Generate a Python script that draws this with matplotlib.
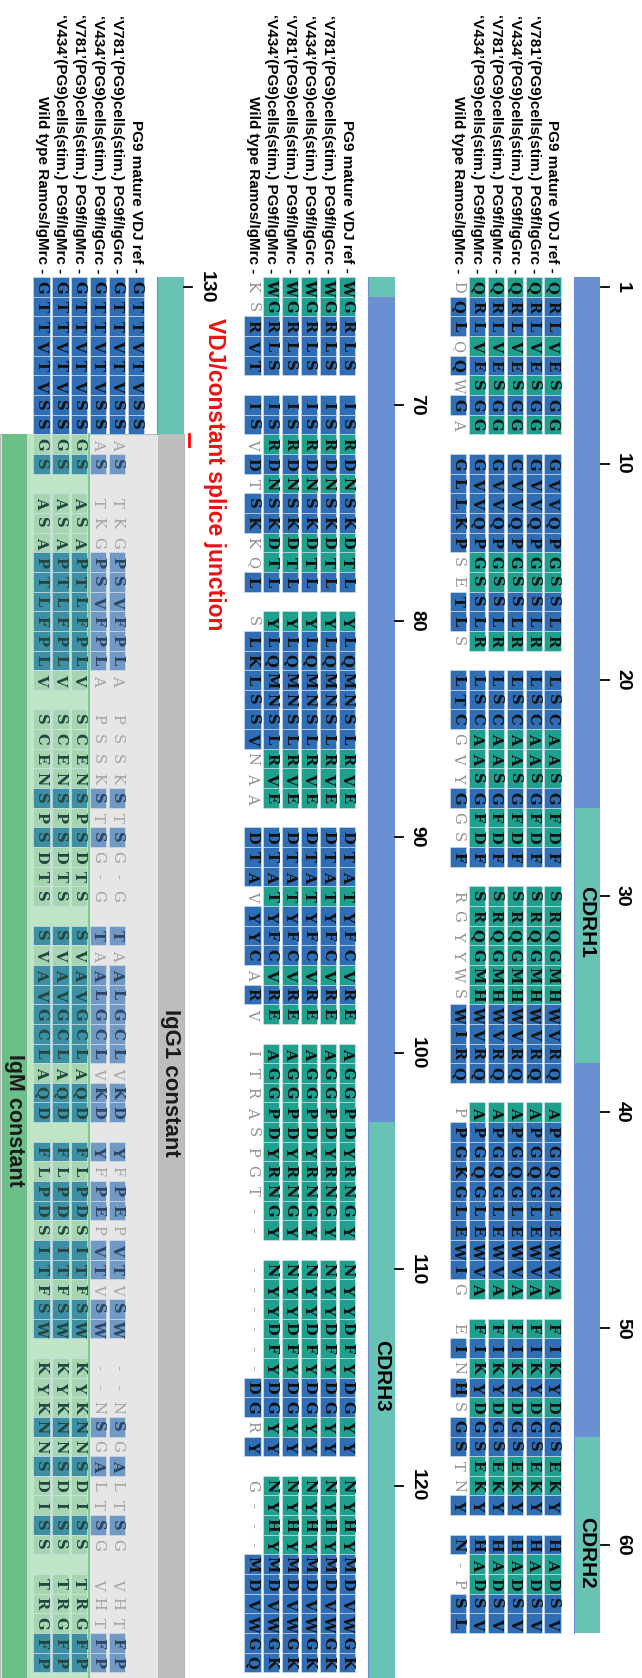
import matplotlib
matplotlib.use("Agg")
import matplotlib.pyplot as plt
from matplotlib.patches import Rectangle

# ---- row labels ----
row_labels = [
    "PG9 mature VDJ ref",
    "\u2018V781\u2019(PG9)cells(stim.) PG9f/IgGrc",
    "\u2018V434\u2019(PG9)cells(stim.) PG9f/IgGrc",
    "\u2018V781\u2019(PG9)cells(stim.) PG9f/IgMrc",
    "\u2018V434\u2019(PG9)cells(stim.) PG9f/IgMrc",
    "Wild type Ramos/IgMrc",
]

# ---- panel 1 (residues 1-64) ----
p1_pg9 = "QRLVESGG GVVQPGSSLR LSCAASGFDF SRQGMHWVRQ APGQGLEWVA FIKYDGSEKY HADSV"
p1_ramos = "DQLQQWGA GLLKPSETLS LTCGVYGGSF RGYYWSWIRQ PPGKGLEWIG EINHSGSTNY N-PSL"
# b = similar in every row, t = differs in the odd row out
p1_mask = "tbbtbtbt bbbbbttbbt bbbtttbttb ttttttbbbb tbbbbbbbbt tbtbtbbttb bttbb"
p1_ticks = [1, 10, 20, 30, 40, 50, 60]
p1_regions = [(-0.5, 26.5, "fr"), (26.5, 39.5, "cdr"), (39.5, 58.5, "fr"), (58.5, 68.5, "cdr")]

# ---- panel 2 (residues 65-128) ----
p2_pg9 = "WGRLS ISRDNSKDTL YLQMNSLRVE DTATYFCVRE AGGPDYRNGY NYYDFYDGYY NYHYMDVWGK"
p2_ramos = "KSRVT ISVDTSKKQL SLKLSSVNAA DTAVYYCARV ITRASPGT-- ------DGRY G---MDVWGQ"
p2_mask = "ttbbb bbtbtbbttb tbbbbbbttt bbbtbbbtbt tttttttttt ttttttbbtb ttttbbbbbb"
p2_ticks = [70, 80, 90, 100, 110, 120]
p2_regions = [(-0.5, 0.5, "cdr"), (0.5, 42.5, "fr"), (42.5, 71.5, "cdr")]

# ---- panel 3 (J region + constant) ----
p3_ref = "GTTVTVSS"
p3_igg = "GTTVTVSSAS TKGPSVFPLA PSSKSTSG-G TAALGCLVKD YFPEPVTVSW --NSGALTSG VHTFP"
p3_igm = "GTTVTVSSGS ASAPTLFPLV SCENSPSDTS SVAVGCLAQD FLPDSITFSW KYKNNSDISS TRGFP"
p3_mask = "bbbbbbbbtb tttbbbbbbt ttttbtbttt btbbbbbtbb btbbtbbtbb tttbtbttbt tttbb"
p3_ticks = [130]
p3_regions = [(-0.5, 7.5, "cdr")]
splice_col = 7.5

cdr_labels = ["CDRH1", "CDRH2", "CDRH3"]
cdr_label_cols = [32.3, 64.4, 55.4]

# ---- colours ----
BOX_BLUE = "#2F6DB4"
BOX_TEAL = "#1F9F8D"
BAR_COL = {"fr": "#6B8FD3", "cdr": "#68C3B5"}
GREY_TXT = "#909090"
IGG_BOX, IGG_TXT, IGG_GREY = "#7099C6", "#2C4560", "#A2A2A2"
IGM_BOX, IGM_FAINT, IGM_TXT = "#3D8FA3", "#A6D5B1", "#24453F"

# ---- layout ----
TOP, PITCH = 287, 19.65          # pixel of column 0, pixels per column
ROW_STEP, BOX_W = 18.9, 16.2
SEQ_FONT = dict(family="DejaVu Serif", fontsize=10.5, rotation=-90,
                ha="center", va="center", zorder=4)
SANS = "Liberation Sans"

fig = plt.figure(figsize=(6.42, 16.78), dpi=100)
ax = fig.add_axes([0, 0, 1, 1])
ax.set_xlim(0, 642)
ax.set_ylim((1678 - TOP) / PITCH, -TOP / PITCH)
ax.axis("off")


def block_starts(seq):
    return [i for i, ch in enumerate(seq) if ch != " " and (i == 0 or seq[i - 1] == " ")]


def draw_rows(x_ref, rows, mask, odd_rows, const_from=None, igg_rows=()):
    for r, seq in enumerate(rows):
        x = x_ref - r * ROW_STEP
        for c, ch in enumerate(seq):
            if ch == " ":
                continue
            similar = mask[c] == "b"
            weight = "bold"
            if const_from is not None and c >= const_from:
                if r in igg_rows:
                    fc = IGG_BOX if similar else None
                    tc = IGG_TXT if similar else IGG_GREY
                    weight = "bold" if similar else "normal"
                else:
                    fc = IGM_BOX if similar else IGM_FAINT
                    tc = IGM_TXT
            elif similar:
                fc, tc = BOX_BLUE, "#111111"
            elif r in odd_rows:
                fc, tc, weight = None, GREY_TXT, "normal"
            else:
                fc, tc = BOX_TEAL, "#111111"
            if fc is not None and ch != "-":
                ax.add_patch(Rectangle((x - BOX_W / 2, c - 0.5), BOX_W, 1.0,
                                       fc=fc, ec="#d8e4ee", lw=0.4, zorder=3))
            ax.text(x, c, ch, color=tc, fontweight=weight, **SEQ_FONT)
        ax.text(x, -0.7, row_labels[r] + " -", rotation=-90, ha="center",
                va="bottom", fontsize=11, family=SANS, fontweight="bold", zorder=4)


def draw_track(x_ref, regions, seq, ticks, skip_first=False):
    x0 = x_ref + 21
    for start, end, kind in regions:
        ax.add_patch(Rectangle((x0, start), 26.5, end - start, fc=BAR_COL[kind],
                               ec="none", zorder=2))
    ax.plot([x0, x0], [regions[0][0], regions[-1][1]], color=BAR_COL["fr"], lw=0.8, zorder=2)
    cols = block_starts(seq)[1:] if skip_first else block_starts(seq)
    for lab, c in zip(ticks, cols):
        ax.plot([x0 + 27, x0 + 35], [c, c], color="black", lw=1.3)
        ax.text(x_ref + 70, c, str(lab), rotation=-90, ha="center", va="center",
                fontsize=14, family=SANS, fontweight="bold")


# panel 1 and 2: five PG9 rows and the Ramos row
x1, x2, x3 = 552.5, 347, 136
draw_rows(x1, [p1_pg9] * 5 + [p1_ramos], p1_mask, odd_rows=(5,))
draw_track(x1, p1_regions, p1_pg9, p1_ticks)
draw_rows(x2, [p2_pg9] * 5 + [p2_ramos], p2_mask, odd_rows=(5,))
draw_track(x2, p2_regions, p2_pg9, p2_ticks, skip_first=True)

# panel 3: constant region shading first
y_end = (1678 - TOP) / PITCH + 1
h = y_end - splice_col
ax.add_patch(Rectangle((0, splice_col), x3 + 48, h, fc="#E6E6E6", ec="#B8B8B8", lw=0.8, zorder=1))
ax.add_patch(Rectangle((x3 + 22, splice_col), 26, h, fc="#BDBDBD", ec="none", zorder=1.2))
ax.add_patch(Rectangle((27, splice_col), 62, h, fc="#BFE4C6", ec="none", zorder=1.2))
ax.plot([89, 89], [splice_col, y_end], color="#6CC58A", lw=1.2, zorder=1.3)
ax.add_patch(Rectangle((2, splice_col), 25, h, fc="#6DBF89", ec="none", zorder=1.2))
ax.text(x3 + 35, 40.5, "IgG1 constant", rotation=-90, ha="center", va="center",
        fontsize=16, family=SANS, fontweight="bold", color="#1a1a1a", zorder=5)
ax.text(14.5, 42.4, "IgM constant", rotation=-90, ha="center", va="center",
        fontsize=15.5, family=SANS, fontweight="bold", color="#1a1a1a", zorder=5)

draw_rows(x3, [p3_ref, p3_igg, p3_igg, p3_igm, p3_igm, p3_igm], p3_mask,
          odd_rows=(1, 2), const_from=int(splice_col + 0.5), igg_rows=(1, 2))
draw_track(x3, p3_regions, p3_igg, p3_ticks)

# splice junction marker
ax.plot([x3 + 53, x3 + 53], [splice_col, splice_col + 0.6], color="red", lw=2, zorder=5)
ax.text(x3 + 78, 1.6, "VDJ/constant splice junction", rotation=-90, ha="center",
        va="top", fontsize=16.5, family=SANS, fontweight="bold", color="#EE1111")

# CDR labels on the tracks
for lab, c, xr in zip(cdr_labels, cdr_label_cols, [x1, x1, x2]):
    ax.text(xr + 34.5, c, lab, rotation=-90, ha="center", va="center",
            fontsize=15, family=SANS, fontweight="bold", zorder=5)

fig.savefig("out.png", dpi=100)
